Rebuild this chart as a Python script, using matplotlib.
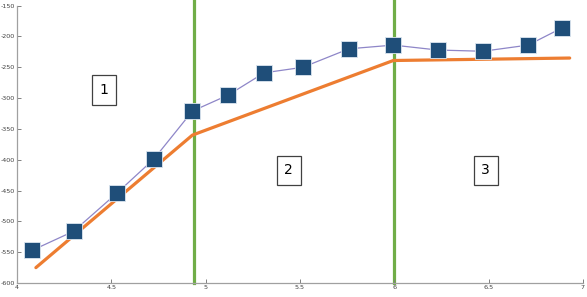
import matplotlib.pyplot as plt

plt.rcParams['axes.unicode_minus'] = False

# measured series (squares)
x_pts = [4.08, 4.30, 4.53, 4.725, 4.93, 5.12, 5.31, 5.515, 5.76, 5.995, 6.23, 6.47, 6.71, 6.89]
y_pts = [-547, -516, -454, -399, -321, -295, -259, -250, -220, -214, -222, -224, -214, -186]

# piecewise fit (orange)
x_fit = [4.10, 4.93, 5.995, 6.93]
y_fit = [-575, -360, -239, -235]

# region boundaries and labels
x_bounds = [4.94, 6.0]
lab_x = [4.46, 5.44, 6.485]
lab_y = [-287, -417, -417]
labels = ['1', '2', '3']

fig = plt.figure(figsize=[5.87, 2.97], dpi=100)
ax = fig.add_axes([0.029, 0.047, 0.964, 0.934])

ax.plot(x_fit, y_fit, color='#ED7D31', lw=2.3, solid_capstyle='round', zorder=2)
ax.plot(x_pts, y_pts, color='#8E86C8', lw=0.9, marker='s', ms=11.5,
        mfc='#1F4E79', mec='#DCE6F0', mew=0.6, zorder=3)
for xb in x_bounds:
    ax.axvline(xb, ymin=0, ymax=1.03, color='#70AD47', lw=2.3, clip_on=False, zorder=1)

for tx, ty, t in zip(lab_x, lab_y, labels):
    ax.text(tx, ty, t, fontsize=10, ha='center', va='center', color='black',
            bbox=dict(boxstyle='square,pad=0.55', fc='white', ec='#404040', lw=0.9))

ax.set_xlim(4, 7)
ax.set_ylim(-600, -150)
ax.set_xticks([4, 4.5, 5, 5.5, 6, 6.5, 7])
ax.set_xticklabels(['4', '4.5', '5', '5.5', '6', '6.5', '7'])
ax.set_yticks(range(-600, -149, 50))
for s in ['top', 'right']:
    ax.spines[s].set_visible(False)
for s in ['left', 'bottom']:
    ax.spines[s].set_color('#A0A0A0')
    ax.spines[s].set_linewidth(0.9)
ax.tick_params(direction='in', length=3, width=0.7, color='#808080',
               labelsize=4.6, labelcolor='#404040', pad=1.2)

fig.savefig('out.png', dpi=100)
